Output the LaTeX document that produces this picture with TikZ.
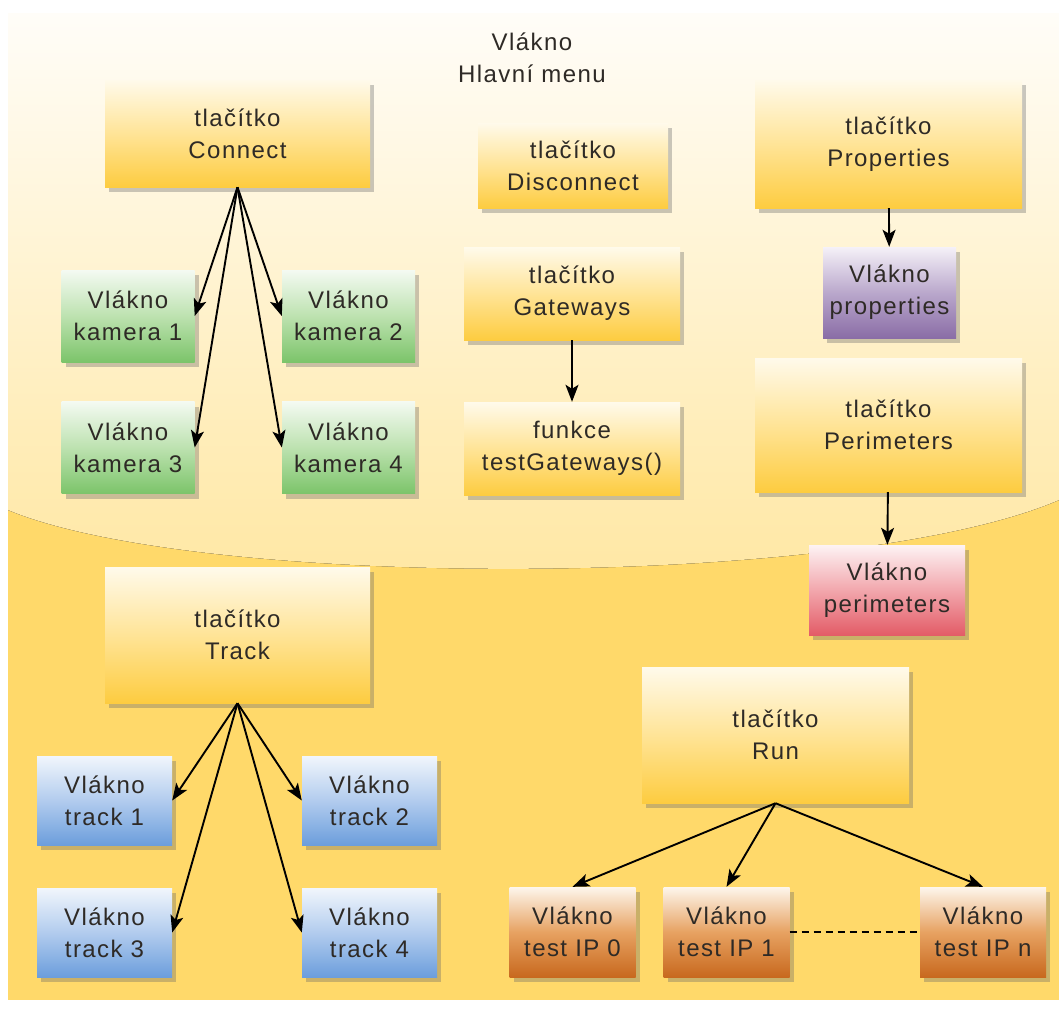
\documentclass[tikz,border=0pt]{standalone}
\usepackage{fontspec}
\setmainfont{Liberation Sans}[LetterSpace=6]
\usetikzlibrary{arrows.meta, positioning, shadows}

\definecolor{bgyel}{HTML}{FFD96A}
\definecolor{glosstop}{HTML}{FFFDF8}
\definecolor{glossbot}{HTML}{FFE7A2}
\definecolor{txtgray}{HTML}{2E2A26}
\definecolor{yeltop}{HTML}{FFFAEB}
\definecolor{yelmid}{HTML}{FFE497}
\definecolor{yelbot}{HTML}{FDCC40}
\definecolor{grntop}{HTML}{F4FAF2}
\definecolor{grnmid}{HTML}{BDE2B0}
\definecolor{grnbot}{HTML}{7CC46A}
\definecolor{blutop}{HTML}{F1F6FC}
\definecolor{blumid}{HTML}{B2CCEE}
\definecolor{blubot}{HTML}{6C9EDC}
\definecolor{prptop}{HTML}{F5F1F8}
\definecolor{prpmid}{HTML}{BAA8CC}
\definecolor{prpbot}{HTML}{8A6DA6}
\definecolor{redtop}{HTML}{FDF3F4}
\definecolor{redmid}{HTML}{F2A7AD}
\definecolor{redbot}{HTML}{E35C67}
\definecolor{brntop}{HTML}{FDF6EC}
\definecolor{brnmid}{HTML}{E7A262}
\definecolor{brnbot}{HTML}{C8691E}

\tikzset{
  box/.style={inner sep=0pt, align=center, text=txtgray,
    font=\fontsize{24}{32}\selectfont,
    drop shadow={shadow xshift=4pt, shadow yshift=-5pt, opacity=0.35, fill=black!60}},
  tlac/.style={box, top color=yeltop, bottom color=yelbot, middle color=yelmid},
  kamera/.style={box, minimum width=133pt, minimum height=92pt,
    top color=grntop, bottom color=grnbot, middle color=grnmid},
  trackbox/.style={box, minimum width=135pt, minimum height=89pt,
    top color=blutop, bottom color=blubot, middle color=blumid},
  testip/.style={box, minimum width=126pt, minimum height=90pt,
    top color=brntop, bottom color=brnbot, middle color=brnmid},
  arr/.style={-{Stealth[length=17pt, width=13pt, inset=4pt]}, line width=1.9pt, black}
}

\begin{document}
\begin{tikzpicture}[x=1pt,y=-1pt]
\useasboundingbox (0,0) rectangle (1059,1012);

% background with gloss
\fill[bgyel] (8,13) rectangle (1059,1000);
\fill[top color=glosstop, bottom color=glossbot]
  (8,13) -- (1059,13) -- (1059,500) .. controls (850,590) and (200,590) .. (8,510) -- cycle;

% title
\node[align=center, text=txtgray, font=\fontsize{24}{32}\selectfont] (menu) at (532,58) {Vlákno\\Hlavní menu};

% top row
\node[tlac, minimum width=265pt, minimum height=107pt] (connect) at (237.5,133.5) {tlačítko\\Connect};
\node[tlac, minimum width=190pt, minimum height=85pt] (disconnect) at (573,165.5) {tlačítko\\Disconnect};
\node[tlac, minimum width=267pt, minimum height=128pt] (properties) at (888.5,144) {tlačítko\\Properties};

% cameras
\node[kamera] (kam1) at (128,316) {Vlákno\\kamera 1};
\node[kamera] (kam2) at (348.5,316) {Vlákno\\kamera 2};
\node[kamera] (kam3) at (128,447.5) {Vlákno\\kamera 3};
\node[kamera] (kam4) at (348.5,447.5) {Vlákno\\kamera 4};

% gateways
\node[tlac, minimum width=216pt, minimum height=93pt] (gateways) at (572,293.5) {tlačítko\\Gateways};
\node[tlac, minimum width=216pt, minimum height=93pt] (testgw) at (572,448.5) {funkce\\testGateways()};

% properties, perimeters
\node[box, minimum width=133pt, minimum height=91pt, top color=prptop, bottom color=prpbot, middle color=prpmid] (vprop) at (889.5,292.5) {Vlákno\\properties};
\node[tlac, minimum width=267pt, minimum height=134pt] (perimeters) at (888.5,425) {tlačítko\\Perimeters};
\node[box, minimum width=156pt, minimum height=90pt, top color=redtop, bottom color=redbot, middle color=redmid] (vperim) at (887,590) {Vlákno\\perimeters};

% track
\node[tlac, minimum width=265pt, minimum height=136pt] (track) at (237.5,635) {tlačítko\\Track};
\node[trackbox] (tr1) at (104.5,800.5) {Vlákno\\track 1};
\node[trackbox] (tr2) at (369.5,800.5) {Vlákno\\track 2};
\node[trackbox] (tr3) at (104.5,932.5) {Vlákno\\track 3};
\node[trackbox] (tr4) at (369.5,932.5) {Vlákno\\track 4};

% run
\node[tlac, minimum width=267pt, minimum height=136pt] (run) at (775.5,735) {tlačítko\\Run};
\node[testip] (ip0) at (572.5,932) {Vlákno\\test IP 0};
\node[testip] (ip1) at (726.5,932) {Vlákno\\test IP 1};
\node[testip] (ipn) at (983,932) {Vlákno\\test IP n};

% connectors
\draw[arr] (connect.south) -- (kam1.east);
\draw[arr] (connect.south) -- (kam2.west);
\draw[arr] (connect.south) -- (kam3.east);
\draw[arr] (connect.south) -- (kam4.west);
\draw[arr] (gateways) -- (testgw);
\draw[arr] (properties) -- (vprop);
\draw[arr] (perimeters) -- (vperim);
\draw[arr] (track.south) -- (tr1.east);
\draw[arr] (track.south) -- (tr2.west);
\draw[arr] (track.south) -- (tr3.east);
\draw[arr] (track.south) -- (tr4.west);
\draw[arr] (run.south) -- (ip0.north);
\draw[arr] (run.south) -- (ip1.north);
\draw[arr] (run.south) -- (ipn.north);
\draw[line width=1.6pt, dash pattern=on 7pt off 5pt] (ip1.east) -- (ipn.west);
\end{tikzpicture}
\end{document}
